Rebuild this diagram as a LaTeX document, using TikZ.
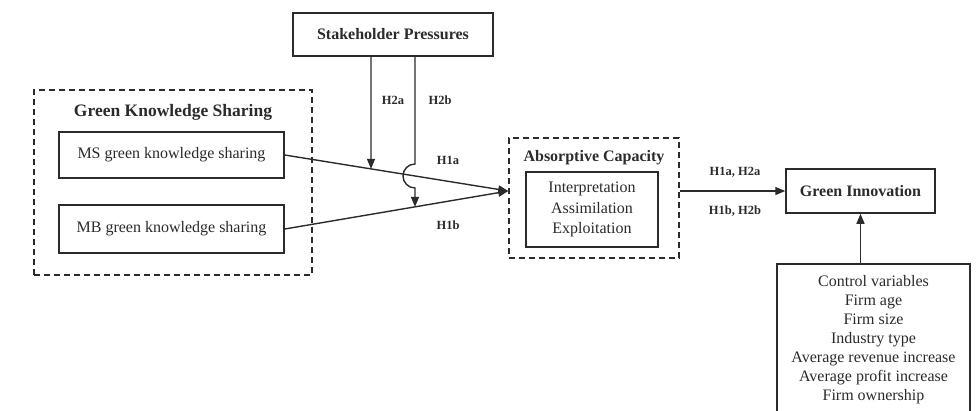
\documentclass[tikz,border=0pt]{standalone}
\usepackage{fontspec}
\setmainfont{Liberation Serif}
\usepackage{tikz}
\usetikzlibrary{positioning,arrows.meta,calc}
\definecolor{ink}{HTML}{2B2B2B}

\begin{document}
\begin{tikzpicture}[x=1pt, y=-1pt,
  every node/.style={font=\fontsize{16}{19}\selectfont, text=ink},
  box/.style={draw=ink, line width=1.5pt, fill=white, align=center, inner sep=0pt},
  group/.style={draw=ink, line width=1.5pt, dash pattern=on 6pt off 4pt, inner sep=0pt},
  title/.style={font=\fontsize{16}{19}\selectfont\bfseries},
  hyp/.style={font=\fontsize{12.5}{14}\selectfont\bfseries},
  arrow/.style={-{Triangle[length=10pt, width=8pt]}, line width=1.4pt, draw=ink}
]
  \useasboundingbox (0,0) rectangle (979,410);

  \node[box, title, minimum width=200pt, minimum height=43pt] (sp) at (393,34.5) {Stakeholder Pressures};

  \node[group, minimum width=278pt, minimum height=185pt] (gks) at (173,182.5) {};
  \node[title, font=\fontsize{17.5}{20}\selectfont\bfseries] (gkst) at (173,112) {Green Knowledge Sharing};
  \node[box, minimum width=225pt, minimum height=46pt] (ms) at (171.5,155) {MS green knowledge sharing};
  \node[box, minimum width=225pt, minimum height=48pt] (mb) at (171.5,229) {MB green knowledge sharing};

  \node[group, minimum width=170pt, minimum height=120pt] (abs) at (594,198) {};
  \node[title] (abst) at (594,158) {Absorptive Capacity};
  \node[box, minimum width=132pt, minimum height=75pt, font=\fontsize{16}{20.5}\selectfont] (dims) at (592,209.5)
    {Interpretation\\Assimilation\\Exploitation};

  \node[box, title, minimum width=149pt, minimum height=44pt] (gi) at (860.5,191) {Green Innovation};
  \node[box, minimum width=193pt, minimum height=151pt, anchor=north] (ctrl) at (873.5,263)
    {Control variables\\Firm age\\Firm size\\Industry type\\Average revenue increase\\Average profit increase\\Firm ownership};

  \node[hyp] (h2a) at (393,100) {H2a};
  \node[hyp] (h2b) at (440,100) {H2b};
  \node[hyp] (h1a) at (448,160) {H1a};
  \node[hyp] (h1b) at (448,225) {H1b};
  \node[hyp] (hout1) at (735,172) {H1a, H2a};
  \node[hyp] (hout2) at (735,211) {H1b, H2b};

  % meeting point and moderator lines
  \coordinate (meet) at (abs.west |- gi.west);
  \coordinate (pa) at ($(sp.south)+(-22,0)$);
  \coordinate (pb) at ($(sp.south)+(22,0)$);
  \coordinate (pa2) at ($(pa)+(0,250)$);
  \coordinate (pb2) at ($(pb)+(0,250)$);
  \coordinate (xa) at (intersection of pa--pa2 and ms.east--meet);
  \coordinate (xh) at (intersection of pb--pb2 and ms.east--meet);
  \coordinate (xb) at (intersection of pb--pb2 and mb.east--meet);

  \draw[arrow] (ms.east) -- (meet);
  \draw[arrow] (mb.east) -- (meet);
  \draw[arrow] (pa) -- (xa);
  \draw[arrow] (pb) -- ($(xh)+(0,-12)$) arc[start angle=270, end angle=90, radius=12] -- (xb);
  \draw[arrow] (abs.east |- gi.west) -- (gi.west);
  \draw[arrow] (ctrl.north -| gi.south) -- (gi.south);
\end{tikzpicture}
\end{document}
